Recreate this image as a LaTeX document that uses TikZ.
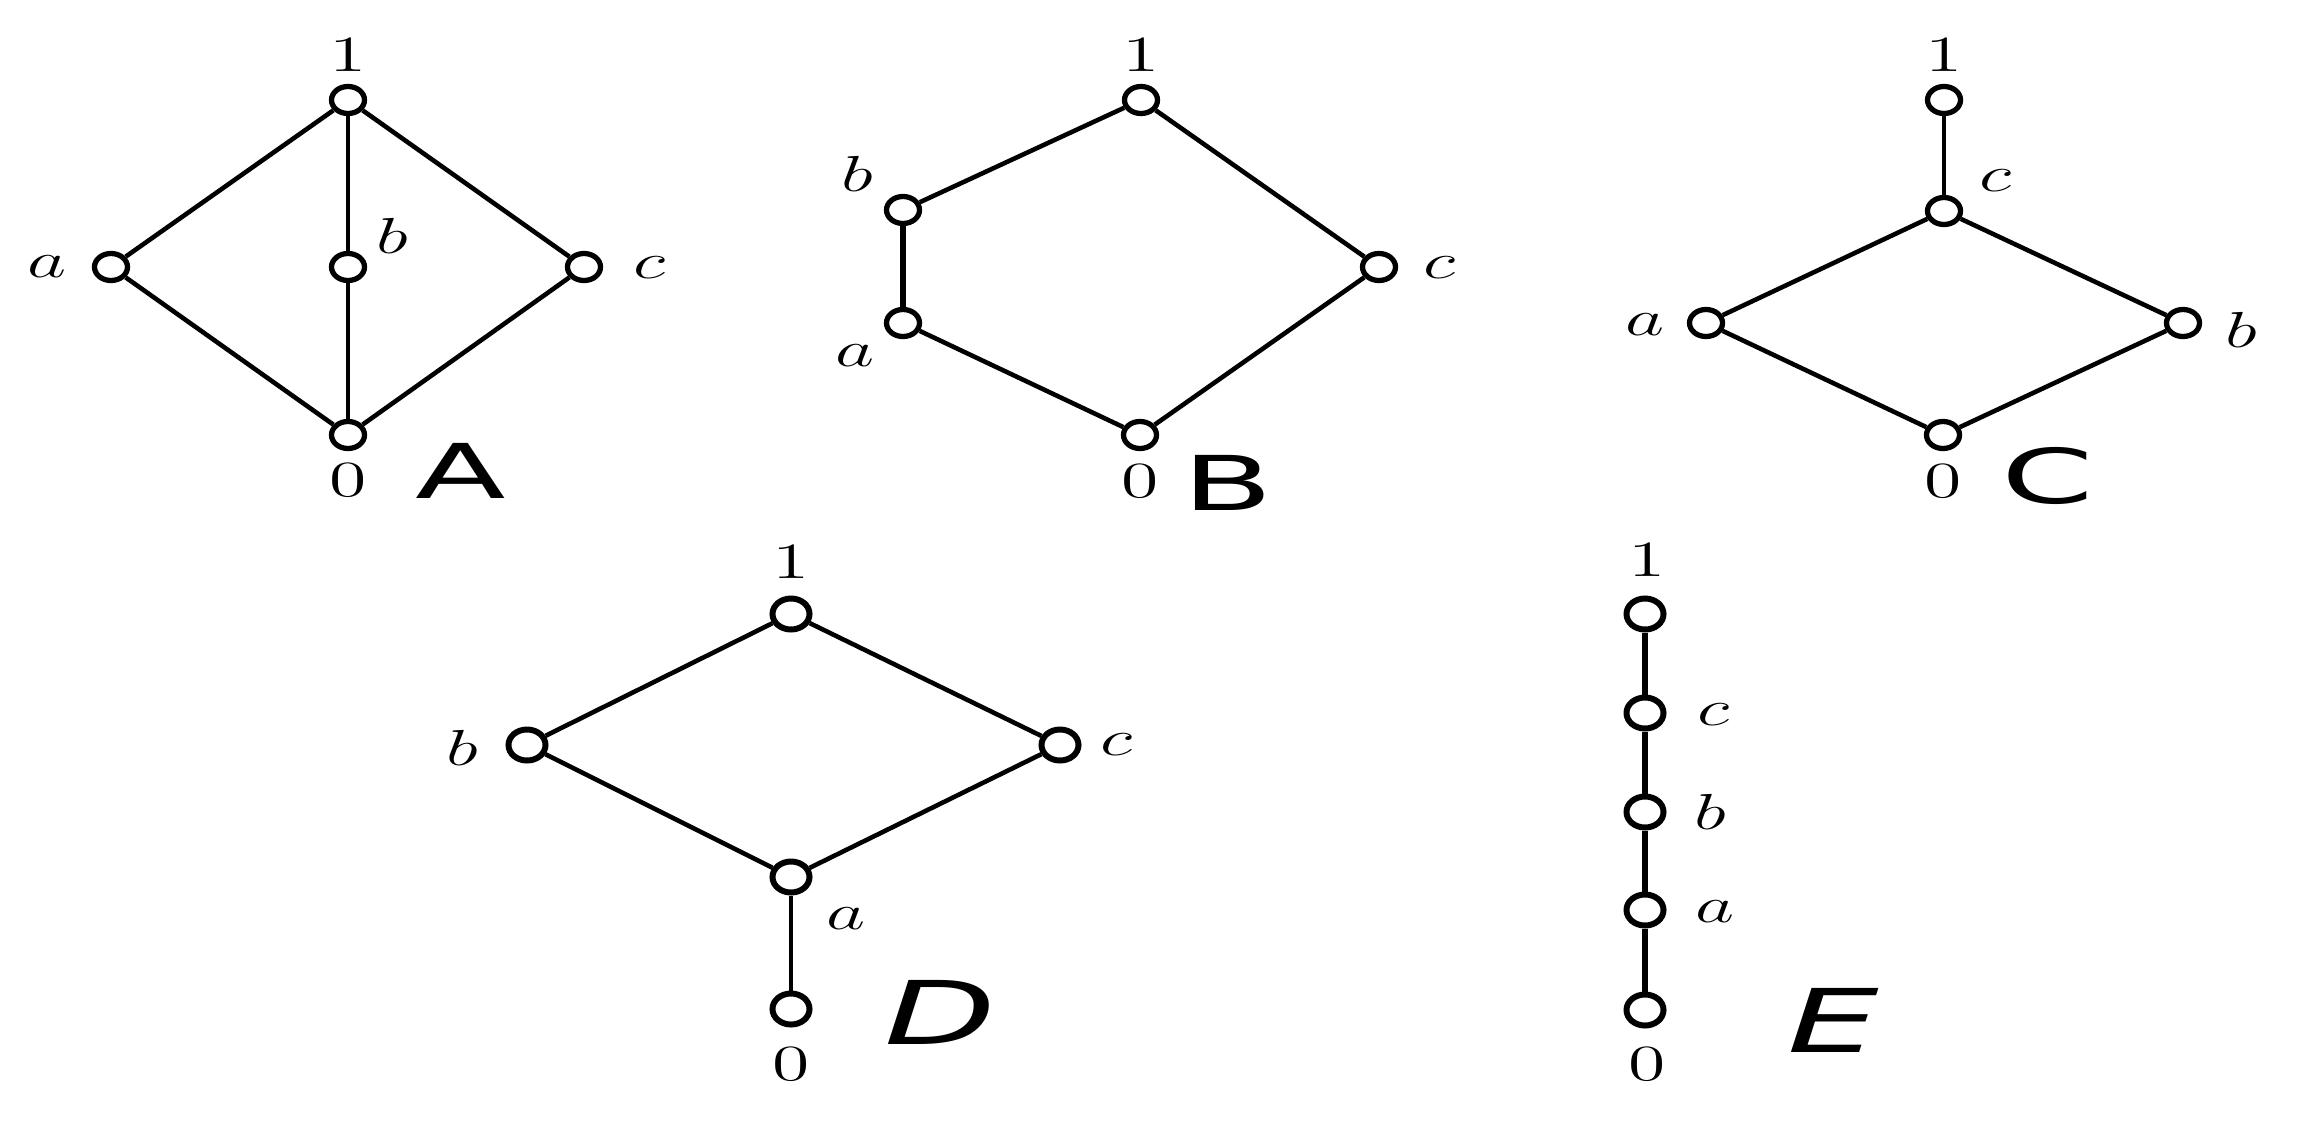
\documentclass[tikz,border=0pt]{standalone}
\usepackage{amsmath}
\usepackage{fontspec}
\newfontfamily\tagfont{DejaVu Sans}
\usetikzlibrary{shapes.geometric}
\tikzset{vtx/.style={ellipse, draw, line width=1.5pt, fill=white, inner sep=0pt, minimum width=0.33cm, minimum height=0.27cm}}
\tikzset{bigvtx/.style={vtx, line width=1.7pt, minimum width=0.37cm, minimum height=0.31cm}}
\tikzset{edge/.style={line width=1.3pt}}
\tikzset{thinedge/.style={line width=0.9pt}}
\tikzset{boldedge/.style={line width=1.8pt}}
\tikzset{lbl/.style={inner sep=0pt, font=\fontsize{13.5}{16}\selectfont}}
\tikzset{biglbl/.style={inner sep=0pt, font=\fontsize{15.5}{18}\selectfont}}
\tikzset{tag/.style={inner sep=0pt, font=\tagfont\fontsize{21.5}{26}\selectfont}}
\tikzset{slanttag/.style={inner sep=0pt, font=\tagfont\itshape\fontsize{25}{30}\selectfont}}
\newcommand*\wide[2][1.5]{\scalebox{#1}[1]{#2}}

\begin{document}
\begin{tikzpicture}[x=0.01cm, y=-0.01cm]
        \useasboundingbox (0,0) rectangle (2297,1124);
        % A
        \node[vtx] (A1) at (348,100) {};
        \node[vtx] (Aa) at (111,267) {};
        \node[vtx] (Ab) at (348,267) {};
        \node[vtx] (Ac) at (584,267) {};
        \node[vtx] (A0) at (348,435) {};
        \draw[edge] (A1) -- (Aa) -- (A0) -- (Ac) -- (A1);
        \draw[thinedge] (A1) -- (Ab) -- (A0);
        \node[lbl] (A1t) at (348,55) {\wide{$1$}};
        \node[lbl] (Aat) at (47,267) {\wide{$a$}};
        \node[lbl] (Abt) at (392,236) {\wide{$b$}};
        \node[lbl] (Act) at (649,268) {\wide{$c$}};
        \node[lbl] (A0t) at (348,480) {\wide{$0$}};
        \node[tag] (Atag) at (461,471) {\wide[1.75]{A}};
        % B
        \node[vtx] (B1) at (1141,100) {};
        \node[vtx] (Bb) at (903,210) {};
        \node[vtx] (Ba) at (903,323) {};
        \node[vtx] (Bc) at (1379,267) {};
        \node[vtx] (B0) at (1140,435) {};
        \draw[edge] (B1) -- (Bb);
        \draw[boldedge] (Bb) -- (Ba);
        \draw[edge] (Ba) -- (B0) -- (Bc) -- (B1);
        \node[lbl] (B1t) at (1141,55) {\wide{$1$}};
        \node[lbl] (Bbt) at (857,174) {\wide{$b$}};
        \node[lbl] (Bat) at (855,356) {\wide{$a$}};
        \node[lbl] (Bct) at (1439,268) {\wide{$c$}};
        \node[lbl] (B0t) at (1140,481) {\wide{$0$}};
        \node[tag] (Btag) at (1228,483) {\wide[1.75]{B}};
        % C
        \node[vtx] (C1) at (1944,100) {};
        \node[vtx] (Cc) at (1944,211) {};
        \node[vtx] (Ca) at (1706,323) {};
        \node[vtx] (Cb) at (2183,323) {};
        \node[vtx] (C0) at (1943,435) {};
        \draw[thinedge] (C1) -- (Cc);
        \draw[edge] (Cc) -- (Ca) -- (C0) -- (Cb) -- (Cc);
        \node[lbl] (C1t) at (1944,55) {\wide{$1$}};
        \node[lbl] (Cct) at (1995,181) {\wide{$c$}};
        \node[lbl] (Cat) at (1645,325) {\wide{$a$}};
        \node[lbl] (Cbt) at (2241,330) {\wide{$b$}};
        \node[lbl] (C0t) at (1943,481) {\wide{$0$}};
        \node[tag] (Ctag) at (2048,476) {\wide[1.75]{C}};
        % D
        \node[bigvtx] (D1) at (791,614) {};
        \node[bigvtx] (Db) at (527,745) {};
        \node[bigvtx] (Dc) at (1060,745) {};
        \node[bigvtx] (Da) at (791,877) {};
        \node[bigvtx] (D0) at (791,1009) {};
        \draw[edge] (D1) -- (Db) -- (Da) -- (Dc) -- (D1);
        \draw[thinedge] (Da) -- (D0);
        \node[biglbl] (D1t) at (791,562) {\wide{$1$}};
        \node[biglbl] (Dbt) at (462,748) {\wide{$b$}};
        \node[biglbl] (Dct) at (1116,745) {\wide{$c$}};
        \node[biglbl] (Dat) at (846,919) {\wide{$a$}};
        \node[biglbl] (D0t) at (791,1064) {\wide{$0$}};
        \node[slanttag] (Dtag) at (940,1012) {\wide[1.65]{D}};
        % E
        \node[bigvtx] (E1) at (1645,614) {};
        \node[bigvtx] (Ec) at (1645,713) {};
        \node[bigvtx] (Eb) at (1645,812) {};
        \node[bigvtx] (Ea) at (1645,910) {};
        \node[bigvtx] (E0) at (1645,1010) {};
        \draw[boldedge] (E1) -- (Ec) -- (Eb) -- (Ea) -- (E0);
        \node[biglbl] (E1t) at (1647,560) {\wide{$1$}};
        \node[biglbl] (Ect) at (1713,715) {\wide{$c$}};
        \node[biglbl] (Ebt) at (1710,812) {\wide{$b$}};
        \node[biglbl] (Eat) at (1715,912) {\wide{$a$}};
        \node[biglbl] (E0t) at (1647,1064) {\wide{$0$}};
        \node[slanttag] (Etag) at (1833,1020) {\wide[1.65]{E}};
\end{tikzpicture}
\end{document}
